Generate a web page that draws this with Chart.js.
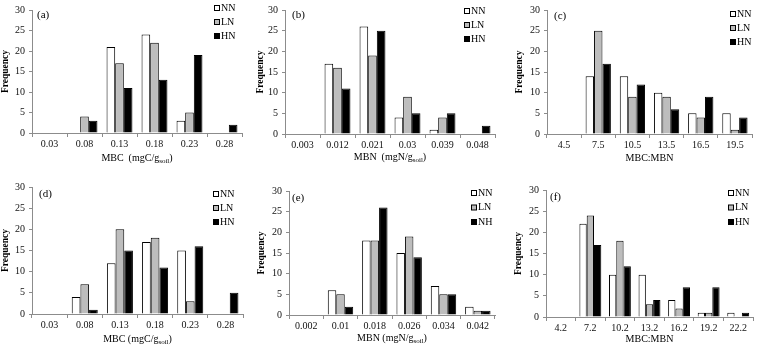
<!DOCTYPE html>
<html>
<head>
<meta charset="utf-8">
<script src="https://cdn.jsdelivr.net/npm/chart.js@4/dist/chart.umd.min.js"></script>
<style>
  body { margin: 0; background: #fff; }
  #wrap { position: relative; width: 760px; height: 348px; overflow: hidden; }
  #wrap canvas { position: absolute; }
</style>
</head>
<body>
<div id="wrap"></div>
<script>
// frequency counts
const seriesNames = ["NN", "LN", "HN"];
const seriesNamesE = ["NN", "LN", "NH"];

const binsA = ["0.03", "0.08", "0.13", "0.18", "0.23", "0.28"];
const nnA = [0, 0, 21, 24, 3, 0];
const lnA = [0, 4, 17, 22, 5, 0];
const hnA = [0, 3, 11, 13, 19, 2];

const binsB = ["0.003", "0.012", "0.021", "0.03", "0.039", "0.048"];
const nnB = [0, 17, 26, 4, 1, 0];
const lnB = [0, 16, 19, 9, 4, 0];
const hnB = [0, 11, 25, 5, 5, 2];

const binsC = ["4.5", "7.5", "10.5", "13.5", "16.5", "19.5"];
const nnC = [0, 14, 14, 10, 5, 5];
const lnC = [0, 25, 9, 9, 4, 1];
const hnC = [0, 17, 12, 6, 9, 4];

const binsD = ["0.03", "0.08", "0.13", "0.18", "0.23", "0.28"];
const nnD = [0, 4, 12, 17, 15, 0];
const lnD = [0, 7, 20, 18, 3, 0];
const hnD = [0, 1, 15, 11, 16, 5];

const binsE = ["0.002", "0.01", "0.018", "0.026", "0.034", "0.042"];
const nnE = [0, 6, 18, 15, 7, 2];
const lnE = [0, 5, 18, 19, 5, 1];
const hnE = [0, 2, 26, 14, 5, 1];

const binsF = ["4.2", "7.2", "10.2", "13.2", "16.2", "19.2", "22.2"];
const nnF = [0, 22, 10, 10, 4, 1, 1];
const lnF = [0, 24, 18, 3, 2, 1, 0];
const hnF = [0, 17, 12, 4, 7, 7, 1];

const yTicks = [0, 5, 10, 15, 20, 25, 30];

const FONT = "'Liberation Serif', 'Times New Roman', serif";
const fills = ["#ffffff", "#bdbdbd", "#000000"];
const axisColor = "#8c8c8c";

// layout: box = canvas rect, area = plot rect (page coords)
const panels = [
  { tag: "(a)", tagAt: [37, 15], bins: binsA, series: [nnA, lnA, hnA], names: seriesNames,
    box: [0, 0, 253, 174], area: [32, 9, 242, 133], yTitlePad: 0,
    xTitle: ["MBC  (mgC/g", "soil", ")"], xTitleY: 158, legend: [214, 8, 14] },
  { tag: "(b)", tagAt: [292, 15], bins: binsB, series: [nnB, lnB, hnB], names: seriesNames,
    box: [253, 0, 253, 174], area: [285, 7, 495, 134], yTitlePad: 2,
    xTitle: ["MBN  (mgN/g", "soil", ")"], xTitleY: 157, legend: [464, 11, 14] },
  { tag: "(c)", tagAt: [554, 16], bins: binsC, series: [nnC, lnC, hnC], names: seriesNames,
    box: [506, 0, 254, 174], area: [547, 8, 752, 134], yTitlePad: 8,
    xTitle: ["MBC:MBN"], xTitleY: 158, legend: [730, 14, 14] },
  { tag: "(d)", tagAt: [39, 194], bins: binsD, series: [nnD, lnD, hnD], names: seriesNames,
    box: [0, 174, 253, 174], area: [32, 187, 243, 314], yTitlePad: 0,
    xTitle: ["MBC (mgC/g", "soil", ")"], xTitleY: 339, legend: [213, 194, 14] },
  { tag: "(e)", tagAt: [292, 198], bins: binsE, series: [nnE, lnE, hnE], names: seriesNamesE,
    box: [253, 174, 253, 174], area: [289, 191, 495, 315], yTitlePad: 3,
    xTitle: ["MBN (mgN/g", "soil", ")"], xTitleY: 338, legend: [471, 193, 14.5] },
  { tag: "(f)", tagAt: [550, 197], bins: binsF, series: [nnF, lnF, hnF], names: seriesNames,
    box: [506, 174, 254, 174], area: [546, 190, 753, 317], yTitlePad: 7,
    xTitle: ["MBC:MBN"], xTitleY: 339, legend: [728, 193, 14.5] }
];

const wrap = document.getElementById("wrap");

panels.forEach(p => {
  const [bx, by, bw, bh] = p.box;
  const [left, top, right, bottom] = p.area;
  const canvas = document.createElement("canvas");
  canvas.width = bw;
  canvas.height = bh;
  canvas.style.left = bx + "px";
  canvas.style.top = by + "px";
  wrap.appendChild(canvas);

  // labels, legend and subscripted x title drawn on top
  const deco = {
    id: "deco",
    afterDraw(chart) {
      const ctx = chart.ctx;
      ctx.save();
      ctx.fillStyle = "#000";
      ctx.textBaseline = "middle";
      ctx.textAlign = "left";
      ctx.font = "11px " + FONT;
      ctx.fillText(p.tag, p.tagAt[0] - bx, p.tagAt[1] - by);

      const [lx, ly, step] = p.legend;
      ctx.font = "10px " + FONT;
      p.names.forEach((name, i) => {
        const y = ly - by + i * step;
        ctx.fillStyle = fills[i];
        ctx.fillRect(lx - bx + 0.5, y - 2.5, 5, 5);
        ctx.strokeStyle = "#000";
        ctx.lineWidth = 1;
        ctx.strokeRect(lx - bx + 0.5, y - 2.5, 5, 5);
        ctx.fillStyle = "#000";
        ctx.fillText(name, lx - bx + 7, y);
      });

      const main = "10px " + FONT, sub = "7px " + FONT;
      const parts = p.xTitle;
      let w = 0;
      parts.forEach((t, i) => {
        ctx.font = i === 1 ? sub : main;
        w += ctx.measureText(t).width;
      });
      let x = (chart.chartArea.left + chart.chartArea.right) / 2 - w / 2;
      const ty = p.xTitleY - by;
      parts.forEach((t, i) => {
        ctx.font = i === 1 ? sub : main;
        ctx.fillText(t, x, i === 1 ? ty + 3 : ty);
        x += ctx.measureText(t).width;
      });
      ctx.restore();
    }
  };

  new Chart(canvas, {
    type: "bar",
    data: {
      labels: p.bins,
      datasets: p.series.map((vals, i) => ({
        label: p.names[i],
        data: vals,
        backgroundColor: fills[i],
        borderColor: "#000",
        borderWidth: 1,
        barPercentage: 1,
        categoryPercentage: 0.74
      }))
    },
    options: {
      responsive: false,
      animation: false,
      layout: { padding: { top: top - by, right: bx + bw - right, left: 0, bottom: 0 } },
      plugins: { legend: { display: false }, tooltip: { enabled: false } },
      scales: {
        x: {
          afterFit: s => { s.height = by + bh - bottom; },
          grid: { drawOnChartArea: false, color: axisColor, tickLength: 4, offset: true },
          border: { color: axisColor },
          ticks: { font: { family: FONT, size: 10 }, color: "#111", padding: 1, maxRotation: 0 }
        },
        y: {
          min: 0,
          max: 30,
          afterFit: s => { s.width = left - bx; },
          afterBuildTicks: s => { s.ticks = yTicks.map(v => ({ value: v })); },
          grid: { drawOnChartArea: false, color: axisColor, tickLength: 3 },
          border: { color: axisColor },
          ticks: { font: { family: FONT, size: 10 }, color: "#111", padding: 4 },
          title: {
            display: true,
            text: "Frequency",
            font: { family: FONT, size: 9.5, weight: "bold" },
            color: "#000",
            padding: { top: p.yTitlePad, bottom: 0 }
          }
        }
      }
    },
    plugins: [deco]
  });
});
</script>
</body>
</html>
